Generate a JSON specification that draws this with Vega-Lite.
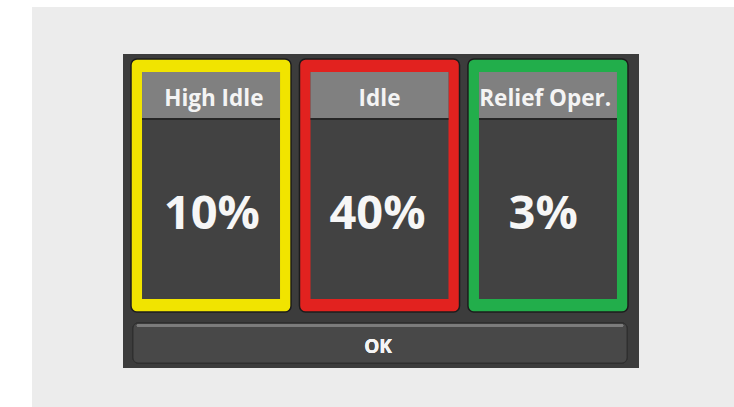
{
  "$schema": "https://vega.github.io/schema/vega-lite/v6.json",
  "width": 702,
  "height": 400,
  "autosize": {"type": "none"},
  "padding": {"left": 32, "top": 7, "right": 0, "bottom": 0},
  "background": "#ffffff",
  "config": {"view": {"fill": "#ececec", "stroke": null}, "axis": {"domain": false, "grid": false, "ticks": false, "labels": false, "title": null}},
  "data": {"values": [
    {"label": "High Idle", "share": 0.10},
    {"label": "Idle", "share": 0.40},
    {"label": "Relief Oper.", "share": 0.03}
  ]},
  "resolve": {"scale": {"x": "independent"}, "axis": {"x": "independent"}},
  "layer": [
    {
      "mark": {"type": "rect", "fill": "#3c3c3c"},
      "encoding": {
        "x": {"datum": 91, "type": "quantitative", "scale": {"domain": [0, 702], "nice": false, "zero": false}, "axis": null},
        "x2": {"datum": 607},
        "y": {"datum": 47, "type": "quantitative", "scale": {"domain": [0, 400], "range": [0, 400], "nice": false, "zero": false}, "axis": null},
        "y2": {"datum": 361}
      }
    },
    {
      "mark": {"type": "rect", "fill": "#484848", "stroke": "#2e2e2e", "strokeWidth": 1, "cornerRadius": 5},
      "encoding": {
        "x": {"datum": 101, "type": "quantitative", "scale": {"domain": [0, 702], "nice": false, "zero": false}, "axis": null},
        "x2": {"datum": 595},
        "y": {"datum": 316, "type": "quantitative", "axis": null},
        "y2": {"datum": 356}
      }
    },
    {
      "mark": {"type": "rule", "stroke": "#7c7c7c", "strokeWidth": 2.5, "strokeCap": "round"},
      "encoding": {
        "x": {"datum": 106, "type": "quantitative", "scale": {"domain": [0, 702], "nice": false, "zero": false}, "axis": null},
        "x2": {"datum": 590},
        "y": {"datum": 318.5, "type": "quantitative", "axis": null}
      }
    },
    {
      "mark": {"type": "text", "text": "OK", "font": "Open Sans", "fontWeight": "bold", "fontSize": 19, "fill": "#f4f4f4", "baseline": "alphabetic", "align": "center"},
      "encoding": {
        "x": {"datum": 346, "type": "quantitative", "scale": {"domain": [0, 702], "nice": false, "zero": false}, "axis": null},
        "y": {"datum": 346, "type": "quantitative", "axis": null}
      }
    },
    {
      "mark": {"type": "rect", "stroke": "#1c1c1c", "strokeWidth": 1.5, "cornerRadius": 6},
      "encoding": {
        "x": {"field": "label", "type": "nominal", "sort": null, "scale": {"domain": ["High Idle", "Idle", "Relief Oper."], "range": [99, 596], "paddingInner": 0.05, "paddingOuter": 0}, "axis": null},
        "y": {"datum": 52, "type": "quantitative", "axis": null},
        "y2": {"datum": 305},
        "fill": {"field": "label", "type": "nominal", "scale": {"domain": ["High Idle", "Idle", "Relief Oper."], "range": ["#f1e400", "#e2221f", "#22ae4b"]}, "legend": null}
      }
    },
    {
      "mark": {"type": "rect", "fill": "#424242", "width": 138},
      "encoding": {
        "x": {"field": "label", "type": "nominal", "sort": null, "scale": {"domain": ["High Idle", "Idle", "Relief Oper."], "range": [99, 596], "paddingInner": 0.05, "paddingOuter": 0}, "axis": null},
        "y": {"datum": 65, "type": "quantitative", "axis": null},
        "y2": {"datum": 292}
      }
    },
    {
      "mark": {"type": "rect", "fill": "#808080", "width": 138},
      "encoding": {
        "x": {"field": "label", "type": "nominal", "sort": null, "scale": {"domain": ["High Idle", "Idle", "Relief Oper."], "range": [99, 596], "paddingInner": 0.05, "paddingOuter": 0}, "axis": null},
        "y": {"datum": 65, "type": "quantitative", "axis": null},
        "y2": {"datum": 111}
      }
    },
    {
      "mark": {"type": "rect", "fill": "#262626", "width": 138},
      "encoding": {
        "x": {"field": "label", "type": "nominal", "sort": null, "scale": {"domain": ["High Idle", "Idle", "Relief Oper."], "range": [99, 596], "paddingInner": 0.05, "paddingOuter": 0}, "axis": null},
        "y": {"datum": 111, "type": "quantitative", "axis": null},
        "y2": {"datum": 113}
      }
    },
    {
      "mark": {"type": "text", "font": "Open Sans", "fontWeight": "bold", "fontSize": 22.5, "fill": "#f4f4f4", "baseline": "alphabetic", "align": "center"},
      "encoding": {
        "x": {"field": "label", "type": "nominal", "sort": null, "scale": {"domain": ["High Idle", "Idle", "Relief Oper."], "range": [99, 596], "paddingInner": 0.05, "paddingOuter": 0}, "axis": null},
        "y": {"datum": 99, "type": "quantitative", "axis": null},
        "text": {"field": "label", "type": "nominal"}
      }
    },
    {
      "mark": {"type": "text", "font": "Open Sans", "fontWeight": "bold", "fontSize": 47, "fill": "#f6f6f6", "baseline": "alphabetic", "align": "center", "dx": -2},
      "encoding": {
        "x": {"field": "label", "type": "nominal", "sort": null, "scale": {"domain": ["High Idle", "Idle", "Relief Oper."], "range": [99, 596], "paddingInner": 0.05, "paddingOuter": 0}, "axis": null},
        "y": {"datum": 222, "type": "quantitative", "axis": null},
        "text": {"field": "share", "type": "quantitative", "format": ".0%"}
      }
    }
  ]
}
